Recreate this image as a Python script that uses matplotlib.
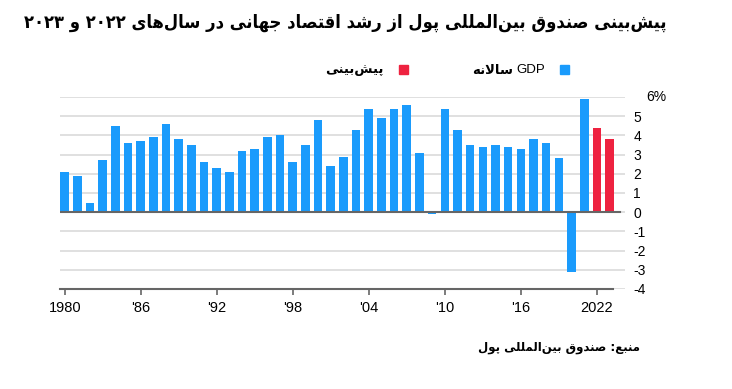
import re
import matplotlib
matplotlib.use('Agg')
from matplotlib import pyplot as plt

####################################
## Data
####################################
years = list(range(1980, 2024))
growth = [2.1, 1.9, 0.5, 2.7, 4.5, 3.6, 3.7, 3.9, 4.6, 3.8,
          3.5, 2.6, 2.3, 2.1, 3.2, 3.3, 3.9, 4.0, 2.6, 3.5,
          4.8, 2.4, 2.9, 4.3, 5.4, 4.9, 5.4, 5.6, 3.1, -0.1,
          5.4, 4.3, 3.5, 3.4, 3.5, 3.4, 3.3, 3.8, 3.6, 2.8,
          -3.1, 5.9, 4.4, 3.8]
forecast_years = [2022, 2023]
xtick_years = [1980, 1986, 1992, 1998, 2004, 2010, 2016, 2022]
xtick_labels = ['1980', "'86", "'92", "'98", "'04", "'10", "'16", '2022']
ytick_values = [-4, -3, -2, -1, 0, 1, 2, 3, 4, 5]

title = 'پیش‌بینی صندوق بین‌المللی پول از رشد اقتصاد جهانی در سال‌های ۲۰۲۲ و ۲۰۲۳'
legend_gdp = 'سالانه'
legend_fc = 'پیش‌بینی'
source = 'منبع: صندوق بین‌المللی پول'

BLUE = '#1a9bfc'
RED = '#ee2240'

####################################
## Persian shaping (matplotlib has no bidi / shaping)
####################################
# isolated, final, initial, medial
FORMS = {
    'ا': ('\uFE8D', '\uFE8E', None, None),
    'ب': ('\uFE8F', '\uFE90', '\uFE91', '\uFE92'),
    'پ': ('\uFB56', '\uFB57', '\uFB58', '\uFB59'),
    'ت': ('\uFE95', '\uFE96', '\uFE97', '\uFE98'),
    'ج': ('\uFE9D', '\uFE9E', '\uFE9F', '\uFEA0'),
    'د': ('\uFEA9', '\uFEAA', None, None),
    'ر': ('\uFEAD', '\uFEAE', None, None),
    'ز': ('\uFEAF', '\uFEB0', None, None),
    'س': ('\uFEB1', '\uFEB2', '\uFEB3', '\uFEB4'),
    'ش': ('\uFEB5', '\uFEB6', '\uFEB7', '\uFEB8'),
    'ص': ('\uFEB9', '\uFEBA', '\uFEBB', '\uFEBC'),
    'ع': ('\uFEC9', '\uFECA', '\uFECB', '\uFECC'),
    'ق': ('\uFED5', '\uFED6', '\uFED7', '\uFED8'),
    'ل': ('\uFEDD', '\uFEDE', '\uFEDF', '\uFEE0'),
    'م': ('\uFEE1', '\uFEE2', '\uFEE3', '\uFEE4'),
    'ن': ('\uFEE5', '\uFEE6', '\uFEE7', '\uFEE8'),
    'ه': ('\uFEE9', '\uFEEA', '\uFEEB', '\uFEEC'),
    'و': ('\uFEED', '\uFEEE', None, None),
    'ی': ('\uFBFC', '\uFBFD', '\uFBFE', '\uFBFF'),
}
LAM_ALEF = ('\uFEFB', '\uFEFC')


def shape(s):
    chars = []
    i = 0
    while i < len(s):
        if s[i] == 'ل' and i + 1 < len(s) and s[i + 1] == 'ا':
            chars.append('LA')
            i += 2
        else:
            chars.append(s[i])
            i += 1
    out = []
    for k, c in enumerate(chars):
        prev = chars[k - 1] if k > 0 else None
        nxt = chars[k + 1] if k + 1 < len(chars) else None
        p = prev in FORMS and FORMS[prev][2] is not None
        if c == 'LA':
            out.append(LAM_ALEF[1 if p else 0])
            continue
        if c not in FORMS:
            if c != '\u200c':
                out.append(c)
            continue
        iso, fin, ini, med = FORMS[c]
        n = (nxt in FORMS or nxt == 'LA') and ini is not None
        out.append(med if p and n else fin if p else ini if n else iso)
    return ''.join(out)


def rtl(s):
    v = shape(s)[::-1]
    return re.sub(r'[A-Za-z0-9\u06F0-\u06F9]+', lambda m: m.group(0)[::-1], v)


####################################
## Plot
####################################
plt.rcParams['font.family'] = ['Liberation Sans', 'DejaVu Sans']

fig = plt.figure(figsize=(7.32, 3.89), dpi=100)
ax = fig.add_axes([60 / 732, 100 / 389, 565 / 732, 192 / 389])

colors = [RED if y in forecast_years else BLUE for y in years]
ax.bar(years, growth, width=0.68, color=colors, zorder=3)

ax.set_xlim(1979.63, 2024.22)
ax.set_ylim(-4, 6)

# grid
for v in ytick_values + [6]:
    ax.axhline(v, color='#dddddd', lw=1.3, zorder=1)
ax.axhline(0, xmax=(2023.8 - 1979.63) / (2024.22 - 1979.63), color='#666666', lw=1.5, zorder=4)

for s in ['top', 'left', 'right']:
    ax.spines[s].set_visible(False)
ax.spines['bottom'].set_color('#666666')
ax.spines['bottom'].set_linewidth(1.5)
ax.spines['bottom'].set_bounds(1979.63, 2023.3)
ax.spines['bottom'].set_zorder(5)

ax.set_xticks(xtick_years)
ax.set_xticklabels(xtick_labels, fontsize=10.5)
ax.tick_params(axis='x', length=4, width=1.2, color='#666666', pad=5)

ax.yaxis.tick_right()
ax.set_yticks(ytick_values)
ax.set_yticklabels([str(v) for v in ytick_values], fontsize=10, ha='left')
ax.tick_params(axis='y', length=0, pad=6)
ax.text(1.0 + 21 / 565, 6, '6%', transform=ax.get_yaxis_transform(), fontsize=10,
        ha='left', va='center')

# title - fit to the reference width (DejaVu is wider than the original font)
t = fig.text(667 / 732, 1 - 23 / 389, rtl(title), fontsize=15, fontweight='bold',
             family='DejaVu Sans', stretch='condensed', ha='right', va='center')
renderer = fig.canvas.get_renderer()
w = t.get_window_extent(renderer).width
t.set_fontsize(15 * 645 / w)

# legend
fig.patches.append(plt.Rectangle((560 / 732, 1 - 74 / 389), 9 / 732, 9 / 389,
                                 transform=fig.transFigure, color=BLUE))
fig.text(545 / 732, 1 - 70 / 389, 'GDP', fontsize=9.5, ha='right', va='center')
fig.text(513 / 732, 1 - 70 / 389, rtl(legend_gdp), fontsize=9.5, fontweight='bold',
         family='DejaVu Sans', ha='right', va='center')
fig.patches.append(plt.Rectangle((399 / 732, 1 - 74 / 389), 9 / 732, 9 / 389,
                                 transform=fig.transFigure, color=RED))
fig.text(384 / 732, 1 - 70 / 389, rtl(legend_fc), fontsize=9.5, fontweight='bold',
         family='DejaVu Sans', ha='right', va='center')

# source
fig.text(640 / 732, 1 - 347 / 389, rtl(source), fontsize=8.5, fontweight='bold',
         family='DejaVu Sans', ha='right', va='center')

plt.savefig('out.png', dpi=100)
